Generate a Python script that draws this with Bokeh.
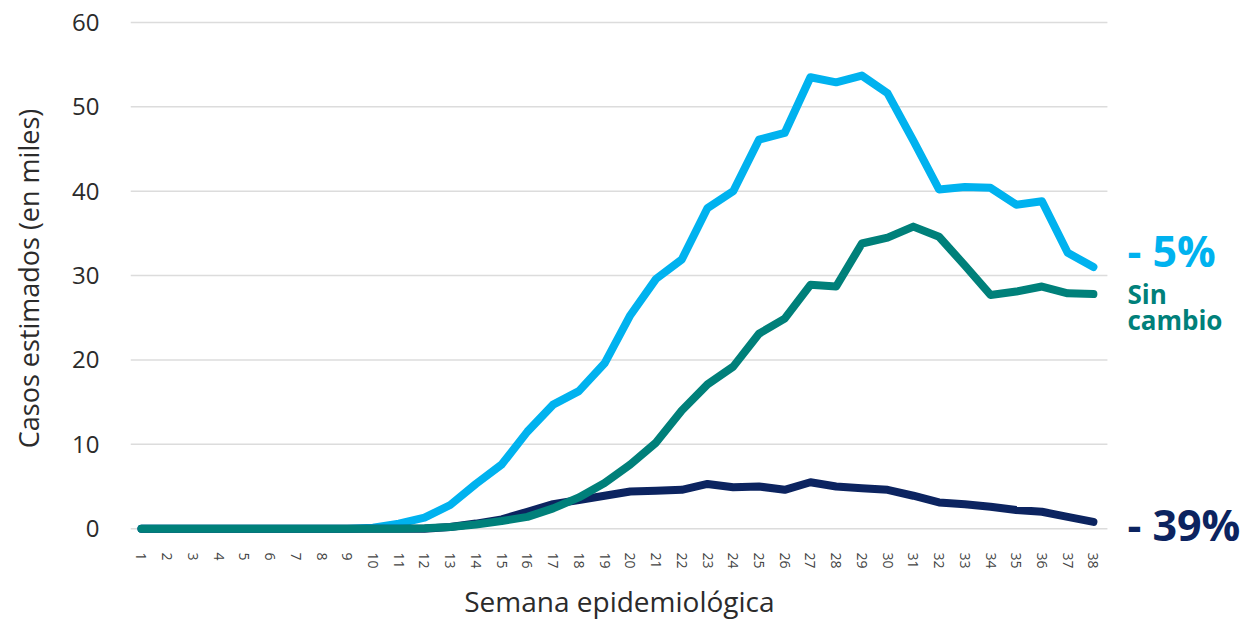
import math
from bokeh.plotting import figure
from bokeh.models import Range1d, FixedTicker
from bokeh.core.properties import value
from bokeh.embed import file_html
from bokeh.resources import INLINE

weeks = list(range(1, 39))
week_labels = [str(w) for w in weeks]
y_ticks = [0, 10, 20, 30, 40, 50, 60]

serie_azul = [0, 0, 0, 0, 0, 0, 0, 0, 0, 0.1, 0.6, 1.3, 2.8, 5.3, 7.6, 11.5, 14.7, 16.3, 19.6,
              25.3, 29.6, 31.9, 38.0, 40.0, 46.1, 46.9, 53.5, 52.9, 53.7, 51.6, 46.0, 40.2,
              40.5, 40.4, 38.4, 38.8, 32.7, 31.0]
serie_verde = [0, 0, 0, 0, 0, 0, 0, 0, 0, 0, 0, 0.05, 0.2, 0.5, 0.9, 1.4, 2.4, 3.7, 5.4,
               7.6, 10.2, 14.0, 17.1, 19.2, 23.1, 24.9, 28.9, 28.7, 33.8, 34.5, 35.8, 34.6,
               31.2, 27.7, 28.1, 28.7, 27.9, 27.8]
serie_marino = [0, 0, 0, 0, 0, 0, 0, 0, 0, 0, 0, 0, 0.2, 0.6, 1.1, 2.0, 2.9, 3.4, 3.9,
                4.4, 4.5, 4.6, 5.3, 4.9, 5.0, 4.6, 5.5, 5.0, 4.8, 4.6, 3.9, 3.1, 2.9, 2.6,
                2.2, 2.0, 1.4, 0.8]

etiquetas = ["- 5%", "Sin", "cambio", "- 39%"]
titulo_x = "Semana epidemiológica"

AZUL = "#00b2ef"
VERDE = "#00807a"
MARINO = "#0c2460"
FONT = "Open Sans"

X0, XGRID_END, X1 = 0.573, 38.544, 43.95
Y0, Y1 = -1.88, 61.18

p = figure(width=1246, height=622, output_backend="svg", toolbar_location=None,
           x_range=Range1d(X0, X1), y_range=Range1d(Y0, Y1),
           min_border_left=130, min_border_right=0, min_border_top=12, min_border_bottom=74)
p.outline_line_color = None
p.background_fill_color = "white"
p.border_fill_color = "white"
p.xgrid.grid_line_color = None
p.ygrid.grid_line_color = None

# horizontal guide lines only across the weeks area
p.segment(x0=[X0] * len(y_ticks), y0=y_ticks, x1=[XGRID_END] * len(y_ticks), y1=y_ticks,
          line_color="#dcdcdc", line_width=1.5)

p.yaxis.ticker = FixedTicker(ticks=y_ticks)
p.xaxis.ticker = FixedTicker(ticks=weeks)
p.xaxis.major_label_overrides = {w: s for w, s in zip(weeks, week_labels)}
p.xaxis.bounds = (X0, XGRID_END)

for ax in (p.xaxis[0], p.yaxis[0]):
    ax.axis_line_color = None
    ax.major_tick_line_color = None
    ax.minor_tick_line_color = None
    ax.major_label_text_font = FONT
    ax.axis_label_text_font = FONT
    ax.axis_label_text_font_style = "normal"
    ax.axis_label_text_color = "#2b2b2b"

p.yaxis.major_label_text_font_size = "24px"
p.yaxis.major_label_text_color = "#2b2b2b"
p.yaxis.major_label_standoff = 25
p.yaxis.axis_label = "Casos estimados (en miles)"
p.yaxis.axis_label_text_font_size = "27px"
p.yaxis.axis_label_standoff = 22

p.xaxis.major_label_text_font_size = "14px"
p.xaxis.major_label_text_color = "#444444"
p.xaxis.major_label_orientation = -math.pi / 2
p.xaxis.major_label_standoff = 2
# trailing no-break spaces keep the centred title over the weeks area
p.xaxis.axis_label = titulo_x + "\u00a0" * 19
p.xaxis.axis_label_text_font_size = "28px"
p.xaxis.axis_label_standoff = 10

for serie, color in ((serie_azul, AZUL), (serie_marino, MARINO), (serie_verde, VERDE)):
    p.line(weeks, serie, line_color=color, line_width=8, line_cap="round", line_join="round")

x_txt = weeks[-1] + 1.32
p.text(x=[x_txt], y=[serie_azul[-1] + 1.95], text=[etiquetas[0]], text_color=AZUL,
       text_font=value(FONT), text_font_size="43px", text_font_style="bold",
       text_baseline="middle", text_align="left")
p.text(x=[x_txt, x_txt], y=[serie_verde[-1], serie_verde[-1] - 3.1],
       text=etiquetas[1:3], text_color=VERDE,
       text_font=value(FONT), text_font_size="26px", text_font_style="bold",
       text_baseline="middle", text_align="left")
p.text(x=[x_txt], y=[serie_marino[-1] - 0.27], text=[etiquetas[3]], text_color=MARINO,
       text_font=value(FONT), text_font_size="43px", text_font_style="bold",
       text_baseline="middle", text_align="left")

open("out.html", "w").write(file_html(p, INLINE))
